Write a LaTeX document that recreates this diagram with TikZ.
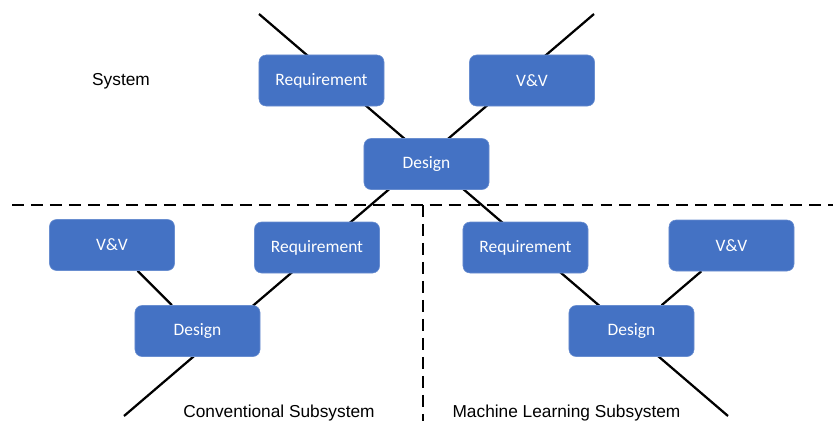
\documentclass[tikz,border=0pt]{standalone}
\usepackage{fontspec}
\setmainfont{Liberation Sans}
\newfontfamily\boxfont{Carlito}
\usepackage{tikz}
\usetikzlibrary{positioning,backgrounds}
\definecolor{vblue}{HTML}{4472C4}

\begin{document}
\begin{tikzpicture}[x=0.025cm, y=-0.025cm,
    vbox/.style={rectangle, rounded corners=5pt, fill=vblue, draw=vblue!80!white,
      minimum width=3.125cm, minimum height=1.275cm, text=white,
      font={\boxfont\fontsize{12.4}{14}\selectfont}},
    vline/.style={line width=1.6pt},
    split/.style={line width=1.6pt, dash pattern=on 8.5pt off 5pt},
    subname/.style={font={\fontsize{12.3}{14}\selectfont}}]
    \useasboundingbox (0,0) rectangle (833,423);
    % Nodes
    \node [vbox] (sysreq) at (321.5,80.5) {Requirement};
    \node [vbox] (sysvv) at (532,80.5) {V\&V};
    \node [vbox] (sysdes) at (426.5,164) {Design};

    \node [vbox] (convvv) at (112,245) {V\&V};
    \node [vbox] (convreq) at (317,247.5) {Requirement};
    \node [vbox] (convdes) at (197.5,331) {Design};

    \node [vbox] (mlreq) at (525.5,247.5) {Requirement};
    \node [vbox] (mlvv) at (731.5,245.5) {V\&V};
    \node [vbox] (mldes) at (631.5,331) {Design};

    \node [subname] (system) at (121,81) {System};
    \node [subname] (conv) at (279,413) {Conventional Subsystem};
    \node [subname] (ml) at (566.5,413) {Machine Learning Subsystem};

    \coordinate (ltop) at (259,14);
    \coordinate (lbot) at (728,416);
    \coordinate (rtop) at (594,14);
    \coordinate (rbot) at (124,416);
    \coordinate (hleft) at (12,205);
    \coordinate (hright) at (833,205);
    \coordinate (vtop) at (423,205);
    \coordinate (vbot) at (423,421);
    % Lines
    \begin{scope}[on background layer]
    \draw [vline] (ltop) -- (lbot);
    \draw [vline] (rtop) -- (rbot);
    \draw [vline] (convvv) -- (convdes);
    \draw [vline] (mlvv) -- (mldes);
    \end{scope}
    \draw [split] (hleft) -- (hright);
    \draw [split] (vtop) -- (vbot);
\end{tikzpicture}
\end{document}
